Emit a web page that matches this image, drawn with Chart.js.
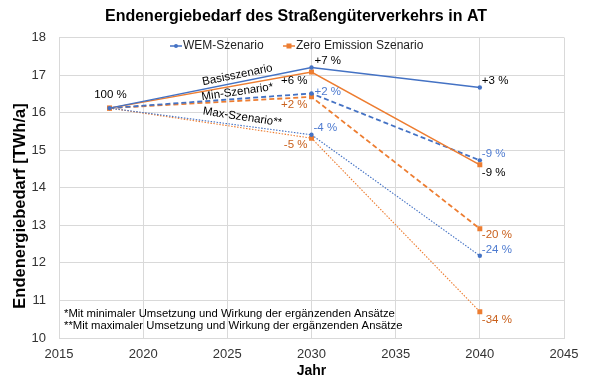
<!DOCTYPE html>
<html>
<head>
<meta charset="utf-8">
<script src="https://cdn.jsdelivr.net/npm/chart.js@4.4.0/dist/chart.umd.min.js"></script>
<style>
html,body{margin:0;padding:0;background:#fff;}
#wrap{width:590px;height:381px;position:relative;}
</style>
</head>
<body>
<div id="wrap"><canvas id="c" width="590" height="381"></canvas></div>
<script>
const years = [2018, 2030, 2040];
const wemBasis = [16.12, 17.20, 16.67];
const zeBasis  = [16.12, 17.08, 14.61];
const wemMin   = [16.12, 16.51, 14.73];
const zeMin    = [16.12, 16.42, 12.91];
const wemMax   = [16.12, 15.41, 12.19];
const zeMax    = [16.12, 15.32, 10.70];
const xTicks = [2015, 2020, 2025, 2030, 2035, 2040, 2045];
const yTicks = [10, 11, 12, 13, 14, 15, 16, 17, 18];

const titleText = 'Endenergiebedarf des Straßengüterverkehrs in AT';
const yTitle = 'Endenergiebedarf [TWh/a]';
const xTitle = 'Jahr';
const legendNames = ['WEM-Szenario', 'Zero Emission Szenario'];
const footnotes = ['*Mit minimaler Umsetzung und Wirkung der ergänzenden Ansätze',
                   '**Mit maximaler Umsetzung und Wirkung der ergänzenden Ansätze'];

const BLUE = '#4472C4', ORANGE = '#ED7D31';
const BLUE_T = '#4E7BD0', ORANGE_T = '#C9601C', BLACK_T = '#000000';

function pts(arr){ return arr.map((v,i)=>({x: years[i], y: v})); }

const pctLabels = [
  {ds:0, i:0, t:'100 %', dx:1,  dy:-13, c:BLACK_T, a:'center'},
  {ds:0, i:1, t:'+7 %',  dx:3,  dy:-7,  c:BLACK_T, a:'left'},
  {ds:1, i:1, t:'+6 %',  dx:-4, dy:9,   c:BLACK_T, a:'right'},
  {ds:2, i:1, t:'+2 %',  dx:3,  dy:-2,  c:BLUE_T,  a:'left'},
  {ds:3, i:1, t:'+2 %',  dx:-4, dy:8,   c:ORANGE_T,a:'right'},
  {ds:4, i:1, t:'-4 %',  dx:2,  dy:-7,  c:BLUE_T,  a:'left'},
  {ds:5, i:1, t:'-5 %',  dx:-4, dy:7,   c:ORANGE_T,a:'right'},
  {ds:0, i:2, t:'+3 %',  dx:2,  dy:-7,  c:BLACK_T, a:'left'},
  {ds:2, i:2, t:'-9 %',  dx:2,  dy:-7,  c:BLUE_T,  a:'left'},
  {ds:1, i:2, t:'-9 %',  dx:2,  dy:8,   c:BLACK_T, a:'left'},
  {ds:3, i:2, t:'-20 %', dx:2,  dy:6,   c:ORANGE_T,a:'left'},
  {ds:4, i:2, t:'-24 %', dx:2,  dy:-6,  c:BLUE_T,  a:'left'},
  {ds:5, i:2, t:'-34 %', dx:2,  dy:8,   c:ORANGE_T,a:'left'}
];
const scenLabels = [
  {t:'Basisszenario',  x:2025.6, y:17.0,  ang:-11.5},
  {t:'Min-Szenario*',  x:2025.6, y:16.55, ang:-8},
  {t:'Max-Szenario**', x:2025.9, y:15.88, ang:8.5}
];

const FONT = '"Liberation Sans", Arial, sans-serif';

const annot = {
  id:'annot',
  afterDatasetsDraw(chart){
    const ctx = chart.ctx, xs = chart.scales.x, ys = chart.scales.y, ca = chart.chartArea;
    ctx.save();
    ctx.font = '11.5px ' + FONT;
    ctx.textBaseline = 'middle';
    pctLabels.forEach(l=>{
      const p = chart.getDatasetMeta(l.ds).data[l.i];
      ctx.fillStyle = l.c; ctx.textAlign = l.a;
      ctx.fillText(l.t, p.x + l.dx, p.y + l.dy);
    });
    ctx.fillStyle = '#000';
    ctx.font = '11.5px ' + FONT;
    ctx.textAlign = 'center';
    scenLabels.forEach(l=>{
      ctx.save();
      ctx.translate(xs.getPixelForValue(l.x), ys.getPixelForValue(l.y));
      ctx.rotate(l.ang*Math.PI/180);
      ctx.fillText(l.t, 0, 0);
      ctx.restore();
    });
    ctx.font = '11.3px ' + FONT;
    ctx.textAlign = 'left';
    ctx.fillText(footnotes[0], ca.left + 5, ca.bottom - 24.5);
    ctx.fillText(footnotes[1], ca.left + 5, ca.bottom - 12.5);
    const ly = 46;
    const items = [{x:170, c:BLUE, st:'circle', r:2}, {x:283, c:ORANGE, st:'rect', r:2.5}];
    ctx.font = '12px ' + FONT;
    items.forEach((it,k)=>{
      ctx.strokeStyle = it.c; ctx.lineWidth = 1.5;
      ctx.beginPath(); ctx.moveTo(it.x, ly); ctx.lineTo(it.x+12, ly); ctx.stroke();
      ctx.fillStyle = it.c;
      if (it.st==='circle'){ ctx.beginPath(); ctx.arc(it.x+6, ly, it.r, 0, Math.PI*2); ctx.fill(); }
      else ctx.fillRect(it.x+6-it.r, ly-it.r, it.r*2, it.r*2);
      ctx.fillStyle = '#222';
      ctx.fillText(legendNames[k], it.x + 13, ly);
    });
    ctx.fillStyle = '#000';
    ctx.font = 'bold 16px ' + FONT;
    ctx.textAlign = 'center';
    ctx.fillText(titleText, 296, 17);
    ctx.font = 'bold 14px ' + FONT;
    ctx.fillText(xTitle, (ca.left+ca.right)/2, 371);
    ctx.save();
    ctx.font = 'bold 16.5px ' + FONT;
    ctx.translate(20, 206);
    ctx.rotate(-Math.PI/2);
    ctx.fillText(yTitle, 0, 0);
    ctx.restore();
    ctx.restore();
  }
};

const mk = (label, data, color, width, dash, style, r) => ({
  label, data: pts(data), borderColor: color, backgroundColor: color,
  borderWidth: width, borderDash: dash, pointStyle: style, pointRadius: r,
  pointBorderWidth: 0, pointHoverRadius: r, tension: 0, fill: false
});

new Chart(document.getElementById('c'), {
  type: 'line',
  data: {
    datasets: [
      mk('WEM Basis', wemBasis, BLUE, 1.5, [], 'circle', 2.2),
      mk('ZE Basis',  zeBasis,  ORANGE, 1.5, [], 'rect', 3.5),
      mk('WEM Min',   wemMin,   BLUE, 1.8, [5,3], 'circle', 2.2),
      mk('ZE Min',    zeMin,    ORANGE, 1.8, [5,3], 'rect', 3.5),
      mk('WEM Max',   wemMax,   BLUE, 1.1, [1.5,1.5], 'circle', 2.2),
      mk('ZE Max',    zeMax,    ORANGE, 1.1, [1.5,1.5], 'rect', 3.5)
    ]
  },
  options: {
    responsive: false,
    animation: false,
    devicePixelRatio: 1,
    layout: { padding: { left: 0, right: 26, top: 37.5, bottom: 0 } },
    plugins: { legend: { display: false }, tooltip: { enabled: false }, title: { display: false } },
    scales: {
      x: {
        type: 'linear', min: 2015, max: 2045,
        afterBuildTicks: s => { s.ticks = xTicks.map(v=>({value:v})); },
        afterFit: s => { s.height = 43; },
        grid: { color: '#D9D9D9', drawTicks: false, lineWidth: 1 },
        border: { color: '#D9D9D9' },
        ticks: { padding: 9, color: '#333', font: { family: FONT, size: 13 }, maxRotation: 0, callback: v => String(v) }
      },
      y: {
        min: 10, max: 18,
        afterBuildTicks: s => { s.ticks = yTicks.map(v=>({value:v})); },
        afterFit: s => { s.width = 59; },
        grid: { color: '#D9D9D9', drawTicks: false, lineWidth: 1 },
        border: { color: '#D9D9D9' },
        ticks: { padding: 13, color: '#333', font: { family: FONT, size: 13 }, callback: v => String(v) }
      }
    }
  },
  plugins: [annot]
});
</script>
</body>
</html>
